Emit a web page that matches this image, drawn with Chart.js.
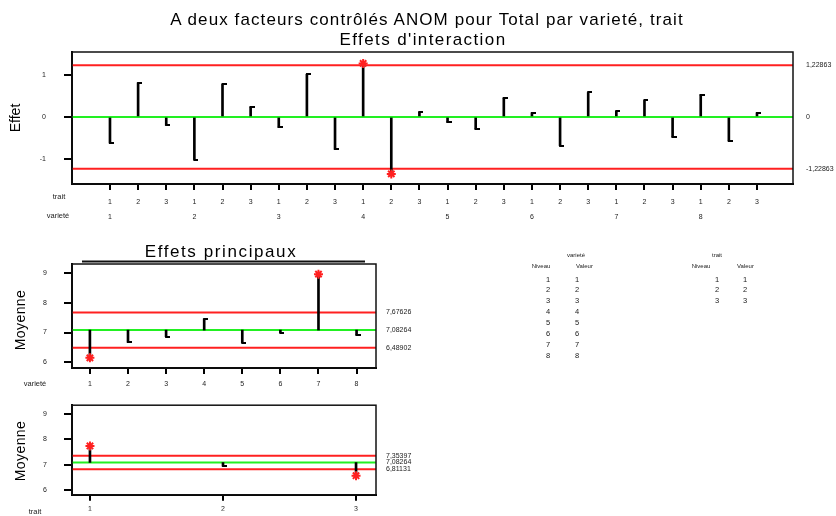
<!DOCTYPE html>
<html>
<head>
<meta charset="utf-8">
<script src="https://cdn.jsdelivr.net/npm/chart.js@4.4.1/dist/chart.umd.min.js"></script>
<style>
  html, body { margin: 0; padding: 0; background: #fff; }
  body { width: 836px; height: 516px; overflow: hidden; position: relative;
         font-family: "Liberation Sans", Arial, sans-serif; color: #000; }
  canvas { position: absolute; left: 0; }
  .t { position: absolute; white-space: nowrap; line-height: 1; }
  .c { transform: translate(-50%, -50%); }
  .l { transform: translate(0, -50%); }
  .rot { transform: translate(-50%, -50%) rotate(-90deg); }
  .head { font-size: 17px; letter-spacing: 1.1px; }
  #tables .t { will-change: transform; }
</style>
</head>
<body>
<canvas id="interaction" width="836" height="230" style="top:0px"></canvas>
<canvas id="byVariety" width="420" height="152" style="top:240px"></canvas>
<canvas id="byTrait" width="420" height="132" style="top:384px"></canvas>

<div class="t c head" style="left:427px; top:19px;">A deux facteurs contrôlés ANOM pour Total par varieté, trait</div>
<div class="t c head" style="left:423px; top:39px; letter-spacing:1.4px;">Effets d'interaction</div>
<div class="t rot" style="left:15px; top:118px; font-size:14px;">Effet</div>
<div class="t c" style="left:59px; top:197px; font-size:7.5px; color:#222;">trait</div>
<div class="t c" style="left:58px; top:216px; font-size:7.5px; color:#222;">varieté</div>

<div class="t c head" style="left:221px; top:251px; letter-spacing:1.6px;">Effets principaux</div>
<div class="t rot" style="left:20px; top:320px; font-size:14px; letter-spacing:0.4px;">Moyenne</div>
<div class="t c" style="left:35px; top:384px; font-size:7.5px; color:#222;">varieté</div>
<div class="t rot" style="left:20px; top:451px; font-size:14px; letter-spacing:0.4px;">Moyenne</div>
<div class="t c" style="left:35px; top:512px; font-size:7.5px; color:#222;">trait</div>

<div id="tables"></div>

<script>
// Factor levels
const traitLevels = ['1', '2', '3'];
const varietyLevels = ['1', '2', '3', '4', '5', '6', '7', '8'];

// Interaction effects, ordered variety 1..8, trait 1..3 within each variety
const interactionEffects = [
  -0.62, 0.81, -0.20,
  -1.01, 0.77, 0.24,
  -0.25, 1.01, -0.77,
   1.27, -1.35, 0.12,
  -0.13, -0.29, 0.45,
   0.10, -0.68, 0.58,
   0.14, 0.39, -0.48,
   0.53, -0.57, 0.10
];
const interactionLimits = [-1.22863, 1.22863];

// Main effects (level means)
const grandMean = 7.08264;
const varietyMeans = [6.15, 6.67, 6.86, 7.46, 6.66, 6.99, 8.96, 6.91];
const varietyLimits = [6.48902, 7.67626];
const traitMeans = [7.74, 6.94, 6.56];
const traitLimits = [6.81131, 7.35397];

const RED = '#ff2020';
const GREEN = '#22f022';
const INK = '#000';
const LABEL = '#222';

Chart.defaults.font.family = '"Liberation Sans", Arial, sans-serif';
Chart.defaults.color = LABEL;

// Small end cap drawn to the right of each stem tip
function makeCap() {
  const c = document.createElement('canvas');
  c.width = 8; c.height = 2;
  const g = c.getContext('2d');
  g.fillStyle = INK;
  g.fillRect(3, 0, 5, 2);
  return c;
}
const capStyle = makeCap();

const decimalComma = v => (v === 0 ? '0' : v.toFixed(5).replace('.', ','));

// Plot frame around the chart area
const framePlugin = {
  id: 'frame',
  afterDatasetsDraw(chart, args, opts) {
    const { ctx, chartArea: a } = chart;
    ctx.save();
    ctx.strokeStyle = '#111';
    ctx.lineWidth = 1.5;
    ctx.strokeRect(a.left, a.top, a.right - a.left, a.bottom - a.top);
    if (opts.topRule) {
      ctx.lineWidth = 2;
      ctx.beginPath();
      ctx.moveTo(a.left + 10, a.top - 2.5);
      ctx.lineTo(a.right - 11, a.top - 2.5);
      ctx.stroke();
    }
    ctx.restore();
  }
};

function anomChart(id, cfg) {
  const out = cfg.values.map(v => v < cfg.limits[0] || v > cfg.limits[1]);
  const across = y => [{ x: cfg.xMin, y }, { x: cfg.xMax, y }];
  const pts = cfg.values.map((v, i) => ({ x: cfg.positions[i], y: v }));

  const datasets = [
    ...cfg.limits.map(l => ({
      type: 'line', data: across(l), borderColor: RED, borderWidth: 2,
      pointRadius: 0, order: 4
    })),
    {
      type: 'line', data: across(cfg.center), borderColor: GREEN, borderWidth: 2,
      pointRadius: 0, order: 3
    },
    {
      type: 'bar',
      data: cfg.values.map((v, i) => ({ x: cfg.positions[i], y: [cfg.center, v] })),
      backgroundColor: INK, barThickness: 2, order: 2
    },
    {
      type: 'scatter', data: pts.filter((p, i) => !out[i]),
      pointStyle: capStyle, pointRadius: 3, order: 1
    },
    {
      type: 'scatter', data: pts.filter((p, i) => out[i]),
      pointStyle: 'star', pointRadius: 4.5, borderColor: RED, borderWidth: 2,
      backgroundColor: RED, order: 0
    }
  ];

  return new Chart(document.getElementById(id), {
    type: 'bar',
    data: { datasets },
    plugins: [framePlugin],
    options: {
      responsive: false,
      animation: false,
      devicePixelRatio: 1,
      layout: { padding: { top: cfg.padTop, left: 0, right: 0, bottom: 0 } },
      plugins: {
        legend: { display: false },
        tooltip: { enabled: false },
        frame: { topRule: !!cfg.topRule }
      },
      scales: {
        x: {
          type: 'linear', min: cfg.xMin, max: cfg.xMax, offset: false,
          afterBuildTicks: s => { s.ticks = cfg.positions.map(v => ({ value: v })); },
          afterFit: s => { s.height = cfg.xAxisH; },
          grid: { offset: false, drawOnChartArea: false, drawTicks: true, tickLength: 6,
                  color: INK, lineWidth: 2 },
          border: { display: true, color: INK, width: 2 },
          ticks: { autoSkip: false, maxRotation: 0, padding: cfg.xPad,
                   font: { size: 7, lineHeight: cfg.xLineHeight },
                   callback: cfg.xLabel }
        },
        y: {
          type: 'linear', position: 'left', min: cfg.yMin, max: cfg.yMax,
          afterBuildTicks: s => { s.ticks = cfg.yTicks.map(v => ({ value: v })); },
          afterFit: s => { s.width = cfg.leftW; },
          grid: { drawOnChartArea: false, drawTicks: true, tickLength: 8,
                  color: INK, lineWidth: 2 },
          border: { display: true, color: INK, width: 2 },
          ticks: { autoSkip: false, padding: cfg.yPad, font: { size: 7 },
                   callback: v => String(v) }
        },
        y2: {
          type: 'linear', position: 'right', min: cfg.yMin, max: cfg.yMax,
          afterBuildTicks: s => { s.ticks = cfg.rightTicks.map(v => ({ value: v })); },
          afterFit: s => { s.width = cfg.rightW; },
          grid: { display: false, drawTicks: false },
          border: { display: false },
          ticks: { autoSkip: false, padding: cfg.rPad, font: { size: 7 },
                   callback: v => decimalComma(v) }
        }
      }
    }
  });
}

// Interaction effects
anomChart('interaction', {
  positions: interactionEffects.map((_, i) => i),
  values: interactionEffects,
  center: 0,
  limits: interactionLimits,
  xMin: -1.35, xMax: 24.28, yMin: -1.59, yMax: 1.54,
  yTicks: [-1, 0, 1],
  rightTicks: [interactionLimits[0], 0, interactionLimits[1]],
  padTop: 52, xAxisH: 46, leftW: 72, rightW: 43,
  xPad: 4.5, xLineHeight: 15 / 7, yPad: 18, rPad: 13,
  xLabel: v => {
    const i = Math.round(v);
    const t = i % traitLevels.length;
    return [traitLevels[t], t === 0 ? varietyLevels[i / traitLevels.length] : ''];
  }
});

// Main effect: variety
anomChart('byVariety', {
  positions: varietyMeans.map((_, i) => i + 1),
  values: varietyMeans,
  center: grandMean,
  limits: varietyLimits,
  xMin: 0.53, xMax: 8.51, yMin: 5.81, yMax: 9.30,
  yTicks: [6, 7, 8, 9],
  rightTicks: [varietyLimits[0], grandMean, varietyLimits[1]],
  padTop: 24, xAxisH: 24, leftW: 72, rightW: 44,
  xPad: 5.8, xLineHeight: 1.2, yPad: 17, rPad: 10,
  topRule: true,
  xLabel: v => varietyLevels[Math.round(v) - 1]
});

// Main effect: trait
anomChart('byTrait', {
  positions: traitMeans.map((_, i) => i + 1),
  values: traitMeans,
  center: grandMean,
  limits: traitLimits,
  xMin: 0.865, xMax: 3.15, yMin: 5.8, yMax: 9.36,
  yTicks: [6, 7, 8, 9],
  rightTicks: [traitLimits[0], grandMean, traitLimits[1]],
  padTop: 10, xAxisH: 16, leftW: 72, rightW: 44,
  xPad: 3.8, xLineHeight: 1.2, yPad: 17, rPad: 10,
  xLabel: v => traitLevels[Math.round(v) - 1]
});

// Level / value tables for both factors
function levelTable(name, levels, cols) {
  const host = document.getElementById('tables');
  const add = (text, x, y, size, cls) => {
    const d = document.createElement('div');
    d.className = 't ' + cls;
    d.style.left = x + 'px';
    d.style.top = y + 'px';
    d.style.fontSize = size + 'px';
    d.style.color = '#1a1a1a';
    d.textContent = text;
    host.appendChild(d);
  };
  add(name, cols.head, 255, 6, 'c');
  add('Niveau', cols.niveau, 266, 6, 'c');
  add('Valeur', cols.valeur, 266, 6, 'l');
  levels.forEach((lv, k) => {
    const y = 279.5 + k * 10.95;
    add(lv, cols.lv, y, 7.5, 'c');
    add(lv, cols.val, y, 7.5, 'l');
  });
}
levelTable('varieté', varietyLevels, { head: 576, niveau: 541, valeur: 576, lv: 548, val: 575 });
levelTable('trait', traitLevels, { head: 717, niveau: 701, valeur: 737, lv: 717, val: 743 });
</script>
</body>
</html>
